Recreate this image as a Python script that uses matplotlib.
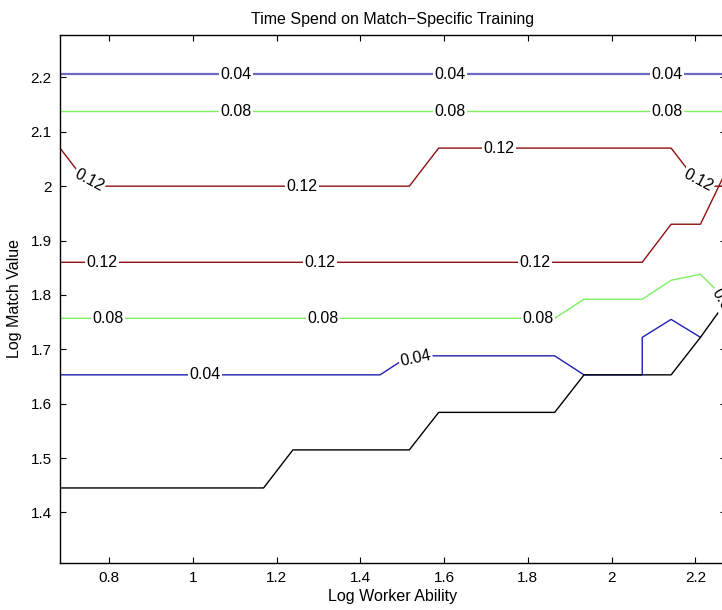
import matplotlib
matplotlib.use("Agg")
import matplotlib.pyplot as plt
from matplotlib.ticker import FuncFormatter

plt.rcParams['font.family'] = ['Liberation Sans', 'DejaVu Sans']

# contour polylines (log worker ability, log match value)
blue_top_x = [0.683, 2.281]
blue_top_y = [2.206, 2.206]
green_top_x = [0.683, 2.281]
green_top_y = [2.138, 2.138]
red_up_x = [0.683, 0.753, 1.517, 1.587, 2.142, 2.212, 2.281]
red_up_y = [2.070, 2.000, 2.000, 2.070, 2.070, 2.000, 2.000]
red_low_x = [0.683, 2.073, 2.142, 2.212, 2.281]
red_low_y = [1.860, 1.860, 1.930, 1.930, 2.040]
green_low_x = [0.683, 1.864, 1.934, 2.073, 2.142, 2.212, 2.281]
green_low_y = [1.757, 1.757, 1.792, 1.792, 1.827, 1.838, 1.785]
blue_low_x = [0.683, 1.447, 1.517, 1.864, 1.934, 2.073, 2.073, 2.142, 2.212]
blue_low_y = [1.653, 1.653, 1.688, 1.688, 1.653, 1.653, 1.722, 1.755, 1.722]
black_x = [0.683, 1.169, 1.239, 1.517, 1.587, 1.864, 1.934, 2.142, 2.212, 2.281]
black_y = [1.445, 1.445, 1.515, 1.515, 1.584, 1.584, 1.653, 1.653, 1.722, 1.796]

# contour labels: text, x, y, rotation
label_text = ['0.04', '0.04', '0.04', '0.08', '0.08', '0.08',
              '0.12', '0.12', '0.12', '0.12',
              '0.12', '0.12', '0.12',
              '0.08', '0.08', '0.08',
              '0.04', '0.04', '0.08']
label_x = [1.103, 1.614, 2.132, 1.103, 1.614, 2.132,
           0.753, 1.261, 1.731, 2.207,
           0.784, 1.304, 1.816,
           0.798, 1.310, 1.825,
           1.029, 1.532, 2.266]
label_y = [2.206, 2.206, 2.206, 2.138, 2.138, 2.138,
           2.011, 2.000, 2.070, 2.011,
           1.860, 1.860, 1.860,
           1.757, 1.757, 1.757,
           1.653, 1.684, 1.785]
label_rot = [0, 0, 0, 0, 0, 0,
             -28, 0, 0, -28,
             0, 0, 0,
             0, 0, 0,
             0, 12, -60]

xticks = [0.8, 1.0, 1.2, 1.4, 1.6, 1.8, 2.0, 2.2]
yticks = [1.4, 1.5, 1.6, 1.7, 1.8, 1.9, 2.0, 2.1, 2.2]

fig = plt.figure(figsize=(7.22, 6.10), dpi=100)
ax = fig.add_axes([60 / 722, 47 / 610, 666 / 722, 528 / 610])

blue = '#1f1fb0'
green = '#80f060'
red = '#8e1010'

ax.plot(blue_top_x, blue_top_y, color='#6b6bc4', lw=1.6)
ax.plot(green_top_x, green_top_y, color=green, lw=1.0)
ax.plot(red_up_x, red_up_y, color=red, lw=1.0)
ax.plot(red_low_x, red_low_y, color=red, lw=1.0)
ax.plot(green_low_x, green_low_y, color=green, lw=1.0)
ax.plot(blue_low_x, blue_low_y, color=blue, lw=1.0)
ax.plot(black_x, black_y, color='black', lw=1.0)

for t, x, y, r in zip(label_text, label_x, label_y, label_rot):
    ax.text(x, y, t, rotation=r, ha='center', va='center', fontsize=11.5,
            rotation_mode='anchor',
            bbox=dict(facecolor='white', edgecolor='none', pad=1.0))

ax.set_xlim(0.683, 2.273)
ax.set_ylim(1.307, 2.278)
ax.set_xticks(xticks)
ax.set_yticks(yticks)
fmt = FuncFormatter(lambda v, p: '%g' % round(v, 2))
ax.xaxis.set_major_formatter(fmt)
ax.yaxis.set_major_formatter(fmt)
ax.tick_params(direction='in', top=True, right=True, length=4.5, width=0.8,
               labelsize=11, pad=6)
for s in ax.spines.values():
    s.set_linewidth(1.0)

ax.set_xlabel('Log Worker Ability', fontsize=11.5, labelpad=3)
ax.set_ylabel('Log Match Value', fontsize=11.5, labelpad=6)
ax.set_title('Time Spend on Match\u2212Specific Training', fontsize=11.5, pad=8)

fig.savefig('out.png', dpi=100)
